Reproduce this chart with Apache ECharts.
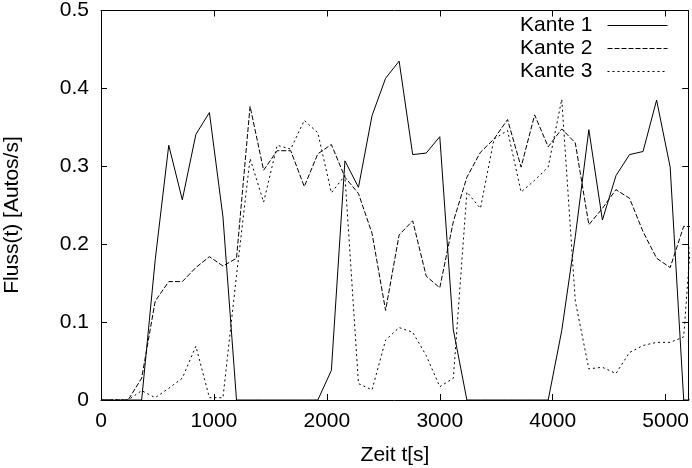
<!DOCTYPE html>
<html>
<head>
<meta charset="utf-8">
<script src="https://cdn.jsdelivr.net/npm/echarts@6/dist/echarts.min.js"></script>
<style>
html,body{margin:0;padding:0;background:#fff;}
#chart{width:692px;height:468px;}
</style>
</head>
<body>
<div id="chart"></div>
<script>
// time stamps [s]
var times = [0,120,240,360,480,600,720,840,960,1080,1200,1320,1440,1560,1680,1800,1920,2040,2160,2280,2400,2520,2640,2760,2880,3000,3120,3240,3360,3480,3600,3720,3840,3960,4080,4200,4320,4440,4560,4680,4800,4920,5040,5160,5280];
// Fluss(t) for each edge [Autos/s]
var kante1 = [0,0,0,0,0.18,0.327,0.257,0.341,0.369,0.235,0,0,0,0,0,0,0,0.038,0.307,0.273,0.365,0.413,0.435,0.315,0.317,0.338,0.09,0,0,0,0,0,0,0,0.089,0.21,0.347,0.231,0.288,0.315,0.319,0.385,0.299,0,0];
var kante2 = [0,0,0,0.028,0.127,0.152,0.152,0.17,0.184,0.172,0.182,0.377,0.295,0.32,0.32,0.274,0.316,0.328,0.286,0.265,0.214,0.115,0.212,0.23,0.159,0.144,0.229,0.286,0.318,0.335,0.36,0.299,0.366,0.325,0.348,0.33,0.225,0.246,0.27,0.259,0.216,0.182,0.17,0.223,0.222];
var kante3 = [0,0,0,0.012,0.003,0.015,0.028,0.069,0.003,0.003,0.16,0.31,0.254,0.327,0.322,0.359,0.343,0.266,0.288,0.021,0.013,0.077,0.093,0.087,0.057,0.017,0.028,0.267,0.246,0.335,0.346,0.267,0.282,0.299,0.386,0.127,0.04,0.042,0.034,0.061,0.07,0.074,0.074,0.081,0.32];
var seriesNames = ['Kante 1','Kante 2','Kante 3'];
var xLabel = 'Zeit t[s]';
var yLabel = 'Fluss(t) [Autos/s]';

function pairs(vals){ return times.map(function(t,i){ return [t, vals[i]]; }); }

var FONT = 'Liberation Sans, Arial, Helvetica, sans-serif';
var chart = echarts.init(document.getElementById('chart'), null, {renderer:'canvas'});
var axisCommon = {
  axisLine:{show:true, onZero:false, lineStyle:{color:'#000', width:1}},
  axisTick:{show:true, inside:true, length:6, lineStyle:{color:'#000', width:1}},
  splitLine:{show:false}
};
function mk(base, extra){ return Object.assign({}, base, extra); }
function plain(v){ return String(Math.round(v*1000)/1000); }

var dashTypes = ['solid', [5,2], [2,3]];
var series = [kante1,kante2,kante3].map(function(v,i){
  return {
    name: seriesNames[i], type:'line', data: pairs(v), symbol:'none', showSymbol:false,
    clip:true, animation:false, xAxisIndex:0, yAxisIndex:0,
    lineStyle:{color:'#000', width:1, type: dashTypes[i]},
    itemStyle:{color:'#000'}
  };
});

chart.setOption({
  backgroundColor:'#fff',
  animation:false,
  grid:{left:101, right:2, top:7, bottom:68, show:false},
  legend:{
    data: seriesNames, orient:'vertical', right:19, top:10, align:'right',
    itemWidth:60, itemHeight:21, itemGap:2,
    itemStyle:{opacity:0, borderWidth:0},
    lineStyle:{width:1},
    textStyle:{fontSize:21, color:'#000', fontFamily:FONT, padding:[0,10,0,0]}
  },
  xAxis:[
    mk(axisCommon,{type:'value', position:'bottom', min:0, max:5200, interval:1000,
      axisLabel:{show:true, color:'#000', fontSize:21, fontFamily:FONT, margin:11, showMaxLabel:false, formatter:plain}}),
    mk(axisCommon,{type:'value', position:'top', min:0, max:5200, interval:1000,
      axisLabel:{show:false}})
  ],
  yAxis:[
    mk(axisCommon,{type:'value', position:'left', min:0, max:0.5, interval:0.1,
      axisLabel:{show:true, color:'#000', fontSize:21, fontFamily:FONT, margin:12, formatter:plain}}),
    mk(axisCommon,{type:'value', position:'right', min:0, max:0.5, interval:0.1,
      axisLabel:{show:false}})
  ],
  graphic:[
    {type:'text', position:[395,455], style:{text:xLabel, fill:'#000', font:'21px '+FONT, textAlign:'center', textVerticalAlign:'middle'}},
    {type:'text', rotation:Math.PI/2, position:[12,215], style:{text:yLabel, fill:'#000', font:'21px '+FONT, textAlign:'center', textVerticalAlign:'middle'}}
  ],
  series: series
});
</script>
</body>
</html>
